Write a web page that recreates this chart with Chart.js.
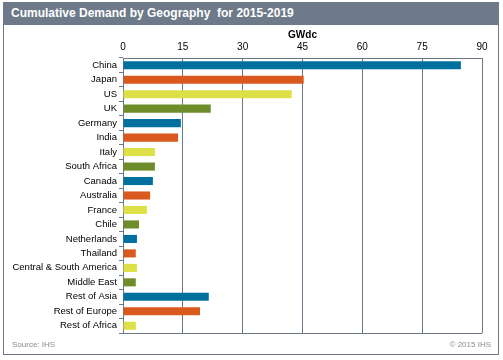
<!DOCTYPE html>
<html><head><meta charset="utf-8">
<script src="https://cdn.jsdelivr.net/npm/chart.js@4"></script>
<style>
html,body{margin:0;padding:0;background:#fff;}
body{width:503px;height:360px;position:relative;overflow:hidden;font-family:"Liberation Sans",Arial,sans-serif;}
#frame{position:absolute;left:3px;top:2px;width:496px;height:353px;border:1px solid #6E7785;box-sizing:border-box;}
#titlebar{position:absolute;left:3px;top:2px;width:496px;height:23px;background:#6E7A8A;color:#fff;font-weight:bold;font-size:12px;line-height:23px;padding-left:8px;box-sizing:border-box;white-space:pre;}
#src{position:absolute;left:12px;top:340px;font-size:8px;color:#8a8a8a;}
#copy{position:absolute;right:12px;top:340px;font-size:8px;color:#8a8a8a;}
#c{position:absolute;left:0;top:0;}
</style></head><body>
<div id="frame"></div>
<div id="titlebar">Cumulative Demand by Geography  for 2015-2019</div>
<canvas id="c" width="503" height="360"></canvas>
<div id="src">Source: IHS</div>
<div id="copy">© 2015 IHS</div>
<script>
const categories = ["China","Japan","US","UK","Germany","India","Italy","South Africa","Canada","Australia","France","Chile","Netherlands","Thailand","Central & South America","Middle East","Rest of Asia","Rest of Europe","Rest of Africa"];
const demandGWdc = [84.7,45.3,42.3,22.0,14.5,13.8,8.0,8.0,7.5,6.8,6.0,4.0,3.5,3.2,3.5,3.2,21.5,19.3,3.2];
const xTicks = [0,15,30,45,60,75,90];
const palette = ["#00719E","#D9591E","#DDE046","#6F8C2A"];
const gridColor = "#6E7785";

Chart.defaults.font.family = '"Liberation Sans", Arial, sans-serif';
Chart.defaults.font.size = 10;
Chart.defaults.color = "#000";

new Chart(document.getElementById("c"), {
  type: "bar",
  data: {
    labels: categories,
    datasets: [{
      data: demandGWdc,
      backgroundColor: categories.map((_, i) => palette[i % palette.length]),
      barPercentage: 0.9,
      categoryPercentage: 0.62
    }]
  },
  options: {
    indexAxis: "y",
    responsive: false,
    animation: false,
    devicePixelRatio: 1,
    layout: { padding: { left: 0, right: 21, top: 28, bottom: 27 } },
    plugins: { legend: { display: false }, tooltip: { enabled: false } },
    scales: {
      x: {
        position: "top",
        min: 0, max: 90,
        afterBuildTicks: s => { s.ticks = xTicks.map(v => ({ value: v })); },
        afterFit: s => { s.height = 30; },
        ticks: { padding: 5, color: "#000", font: { size: 10 } },
        grid: { color: gridColor, lineWidth: 1, tickLength: 0, drawTicks: false },
        border: { display: true, color: gridColor, width: 1 },
        title: { display: true, text: "GWdc", font: { size: 10, weight: "bold" }, color: "#000", padding: { top: 1, bottom: 0 } }
      },
      y: {
        afterFit: s => { s.width = 123; },
        ticks: { padding: 2, color: "#000", font: { size: 9.5 }, autoSkip: false },
        grid: { display: true, drawOnChartArea: false, offset: true, tickLength: 4, color: gridColor },
        border: { display: true, color: gridColor, width: 1 }
      }
    }
  },
  plugins: [{
    id: "frameBox",
    afterDraw(chart) {
      const a = chart.chartArea, ctx = chart.ctx;
      ctx.save();
      ctx.strokeStyle = gridColor; ctx.lineWidth = 1;
      ctx.beginPath();
      ctx.moveTo(a.left, Math.round(a.bottom) + 0.5);
      ctx.lineTo(a.right, Math.round(a.bottom) + 0.5);
      ctx.moveTo(Math.round(a.right) + 0.5, a.top);
      ctx.lineTo(Math.round(a.right) + 0.5, a.bottom);
      ctx.stroke();
      ctx.restore();
    }
  }]
});
</script>
</body></html>
